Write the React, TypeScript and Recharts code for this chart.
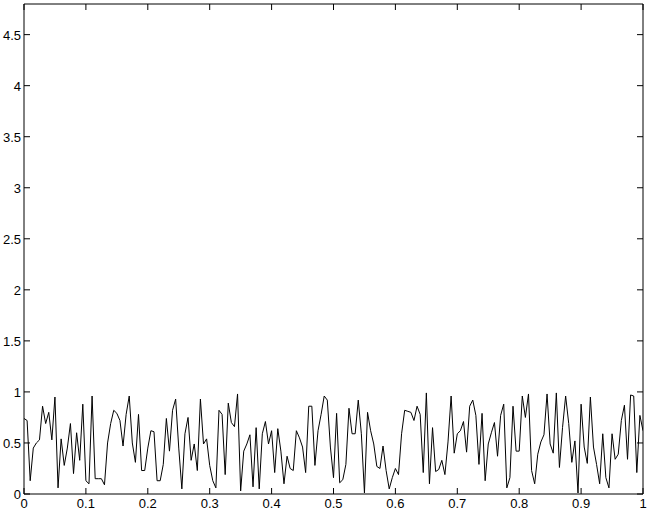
import React from "react";
import { Line, LineChart, XAxis, YAxis } from "recharts";

// samples at x = 0, 0.005, ..., 1
const signal = [
  0.74, 0.72, 0.13, 0.45, 0.5, 0.53, 0.86, 0.69, 0.8, 0.53, 0.95,
  0.06, 0.54, 0.28, 0.45, 0.69, 0.2, 0.6, 0.33, 0.88, 0.13,
  0.1, 0.96, 0.15, 0.15, 0.15, 0.09, 0.5, 0.69, 0.82, 0.79,
  0.72, 0.47, 0.78, 0.96, 0.5, 0.31, 0.78, 0.23, 0.23, 0.45,
  0.62, 0.61, 0.13, 0.13, 0.29, 0.74, 0.42, 0.82, 0.93, 0.45,
  0.05, 0.59, 0.75, 0.33, 0.49, 0.23, 0.93, 0.49, 0.54, 0.28,
  0.13, 0.06, 0.82, 0.78, 0.19, 0.89, 0.7, 0.66, 0.98, 0.03,
  0.42, 0.49, 0.58, 0.07, 0.65, 0.05, 0.59, 0.71, 0.49, 0.62,
  0.21, 0.64, 0.42, 0.1, 0.37, 0.25, 0.23, 0.62, 0.55, 0.46,
  0.21, 0.86, 0.86, 0.28, 0.62, 0.78, 0.96, 0.92, 0.46, 0.16,
  0.79, 0.11, 0.14, 0.29, 0.84, 0.59, 0.59, 0.92, 0.59, 0.01,
  0.8, 0.62, 0.49, 0.27, 0.25, 0.47, 0.23, 0.05, 0.16, 0.25,
  0.19, 0.59, 0.82, 0.81, 0.8, 0.72, 0.86, 0.78, 0.21, 0.99,
  0.1, 0.65, 0.22, 0.24, 0.33, 0.19, 0.51, 0.96, 0.4, 0.59,
  0.62, 0.71, 0.41, 0.86, 0.92, 0.77, 0.29, 0.79, 0.13, 0.49,
  0.6, 0.7, 0.37, 0.77, 0.88, 0.06, 0.16, 0.86, 0.42, 0.42,
  0.96, 0.75, 0.98, 0.23, 0.1, 0.39, 0.51, 0.58, 0.98, 0.49,
  0.4, 0.99, 0.26, 0.65, 0.96, 0.69, 0.31, 0.52, 0.01, 0.88,
  0.46, 0.3, 0.95, 0.46, 0.29, 0.1, 0.59, 0.16, 0.06, 0.59,
  0.34, 0.39, 0.72, 0.87, 0.34, 0.97, 0.96, 0.21, 0.77, 0.62,
];

const xTicks = [0, 0.1, 0.2, 0.3, 0.4, 0.5, 0.6, 0.7, 0.8, 0.9, 1];
const yTicks = [0, 0.5, 1, 1.5, 2, 2.5, 3, 3.5, 4, 4.5];

const data = signal.map((v, i) => ({ x: i / (signal.length - 1), y: v }));

const font = "'Liberation Sans', Arial, sans-serif";
const TICK = 6;

const LeftTick = ({ x, y, payload }: any) => (
  <g>
    <text x={x} y={y} dy={5} textAnchor="end" fontSize={13} fontFamily={font} fill="#000">
      {payload.value}
    </text>
    <line x1={x + 3} x2={x + 3 + TICK} y1={y} y2={y} stroke="#000" />
  </g>
);

const RightTick = ({ x, y }: any) => <line x1={x} x2={x - TICK} y1={y} y2={y} stroke="#000" />;

const BottomTick = ({ x, y, payload }: any) => (
  <g>
    <text x={x} y={y} dy={10} textAnchor="middle" fontSize={13} fontFamily={font} fill="#000">
      {payload.value}
    </text>
    <line x1={x} x2={x} y1={y - 4} y2={y - 4 - TICK} stroke="#000" />
  </g>
);

const TopTick = ({ x, y }: any) => <line x1={x} x2={x} y1={y} y2={y + TICK} stroke="#000" />;

export default function App() {
  return (
    <div style={{ position: "absolute", left: 0, top: 0, background: "#fff" }}>
      <LineChart width={653} height={511} data={data} margin={{ top: 0, right: 0, bottom: 0, left: 0 }}>
        <XAxis
          dataKey="x"
          type="number"
          domain={[0, 1]}
          ticks={xTicks}
          interval={0}
          height={17}
          tickSize={0}
          tickMargin={4}
          tickLine={false}
          axisLine={{ stroke: "#000" }}
          tick={<BottomTick />}
          allowDataOverflow
        />
        <XAxis
          xAxisId="top"
          orientation="top"
          dataKey="x"
          type="number"
          domain={[0, 1]}
          ticks={xTicks}
          interval={0}
          height={4}
          tickSize={0}
          tickMargin={0}
          tickLine={false}
          axisLine={{ stroke: "#000" }}
          tick={<TopTick />}
          allowDataOverflow
        />
        <YAxis
          type="number"
          domain={[0, 4.8]}
          ticks={yTicks}
          interval={0}
          width={24}
          tickSize={0}
          tickMargin={3}
          tickLine={false}
          axisLine={{ stroke: "#000" }}
          tick={<LeftTick />}
          allowDataOverflow
        />
        <YAxis
          yAxisId="right"
          orientation="right"
          type="number"
          domain={[0, 4.8]}
          ticks={yTicks}
          interval={0}
          width={10}
          tickSize={0}
          tickMargin={0}
          tickLine={false}
          axisLine={{ stroke: "#000" }}
          tick={<RightTick />}
          allowDataOverflow
        />
        <Line
          type="linear"
          dataKey="y"
          stroke="#000"
          strokeWidth={1}
          dot={false}
          activeDot={false}
          isAnimationActive={false}
        />
      </LineChart>
    </div>
  );
}
